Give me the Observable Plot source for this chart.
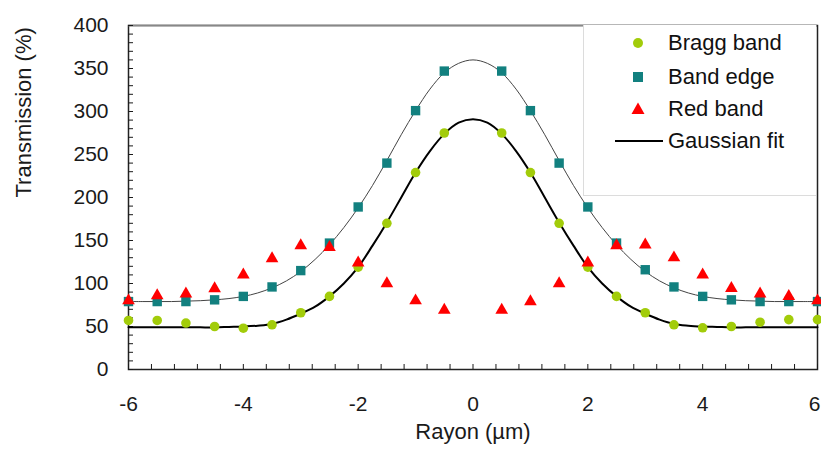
<!DOCTYPE html>
<html><head><meta charset="utf-8">
<script src="https://cdn.jsdelivr.net/npm/d3@7"></script>
<script src="https://cdn.jsdelivr.net/npm/@observablehq/plot@0.6"></script>
<style>
body{margin:0;background:#fff;font-family:"Liberation Sans",Arial,sans-serif;}
#wrap{position:relative;width:821px;height:450px;overflow:hidden;}
#legend{position:absolute;left:583px;top:25px;width:233px;height:171px;background:#fff;border-left:1px solid #dcdcdc;border-bottom:1px solid #dcdcdc;box-sizing:border-box;}
.row{position:absolute;left:0;height:30px;font-size:22px;color:#111;}
.row svg{position:absolute;left:0;top:0;}
.row span{position:absolute;left:84px;top:50%;transform:translateY(-50%);white-space:nowrap;line-height:1;}
</style></head>
<body><div id="wrap"></div>
<script>
// ---- data ----
const seriesNames = ["Bragg band", "Band edge", "Red band", "Gaussian fit"];
const seriesColors = ["#a2cc0a", "#12807f", "#ff0000", "#000000"];
const xLabel = "Rayon (µm)";
const yLabel = "Transmission (%)";
const xDomain = [-6, 6];
const yDomain = [0, 400];
const xTickLabels = [-6, -4, -2, 0, 2, 4];
const xLastTickLabel = [6];
const yTickLabels = [0, 50, 100, 150, 200, 250, 300, 350, 400];
const xMinorTicks = [-6,-5.6,-5.2,-4.8,-4.4,-4,-3.6,-3.2,-2.8,-2.4,-2,-1.6,-1.2,-0.8,-0.4,0,0.4,0.8,1.2,1.6,2,2.4,2.8,3.2,3.6,4,4.4,4.8,5.2,5.6,6];
const yMinorTicks = [0,10,20,30,40,50,60,70,80,90,100,110,120,130,140,150,160,170,180,190,200,210,220,230,240,250,260,270,280,290,300,310,320,330,340,350,360,370,380,390,400];

const pointX = [-6,-5.5,-5,-4.5,-4,-3.5,-3,-2.5,-2,-1.5,-1,-0.5,0.5,1,1.5,2,2.5,3,3.5,4,4.5,5,5.5,6];
const braggBand = [57,57,54,50,48,52,66,85,119,170,229,275,275,229,170,119,85,66,52,48.5,50,55,58,58];
const bandEdge  = [79,79,79,81,85,96,115,147,189,240,301,347,347,301,240,189,147,116,96,85,81,79,79,79];
const redBand   = [80,86,88,94,110,129,144,142,124,100,80,69,69,79,100,124,144,145,130,110,94.5,88,85,80];

const fitX = [-6,-5.75,-5.5,-5.25,-5,-4.75,-4.5,-4.25,-4,-3.75,-3.5,-3.25,-3,-2.75,-2.5,-2.25,-2,-1.75,-1.5,-1.25,-1,-0.75,-0.5,-0.25,0,0.25,0.5,0.75,1,1.25,1.5,1.75,2,2.25,2.5,2.75,3,3.25,3.5,3.75,4,4.25,4.5,4.75,5,5.25,5.5,5.75,6];
const braggFit = [49,49,49,49,49,49,49,49.5,50,51,53,58,65,73,85,100,119,144,171,200,229,254,274,287,291,287,274,254,229,200,171,144,119,100,85,73,65,58,53,51,50,49.5,49,49,49,49,49,49,49];
const edgeFit  = [79,79,79,79,79.5,80,81,82.5,85,89,95,103,114,128,145,165,188,214,243,273,301,326,345,356,360,356,345,326,301,273,243,214,188,165,145,128,114,103,95,89,85,82.5,81,80,79.5,79,79,79,79];

// ---- chart ----
const chart = Plot.plot({
  width: 821, height: 450,
  marginLeft: 128, marginRight: 4, marginTop: 25, marginBottom: 81,
  style: {fontFamily: "'Liberation Sans', Arial, sans-serif", fontSize: "21px", color: "#1a1a1a", background: "#fff", overflow: "visible"},
  x: {domain: xDomain},
  y: {domain: yDomain},
  marks: [
    Plot.frame({stroke: "#222", strokeWidth: 1.5}),
    Plot.ruleY([yDomain[1]], {stroke: "#888", strokeWidth: 1.5}),
    Plot.axisY({ticks: yMinorTicks, tickSize: -5, tickFormat: () => "", label: null, strokeWidth: 1}),
    Plot.axisY({ticks: yTickLabels, tickSize: 0, tickPadding: 20, tickFormat: d => String(d), label: null}),
    Plot.axisX({ticks: xMinorTicks, tickSize: -5, tickFormat: () => "", label: null, strokeWidth: 1}),
    Plot.axisX({ticks: xTickLabels, tickSize: 0, tickPadding: 27, tickFormat: d => String(d), label: null}),
    Plot.axisX({ticks: xLastTickLabel, tickSize: 0, tickPadding: 27, dx: -3, tickFormat: d => String(d), label: null}),
    Plot.text([yLabel], {frameAnchor: "left", rotate: -90, dx: -105, fontSize: 22, fill: "#1a1a1a"}),
    Plot.text([xLabel], {frameAnchor: "bottom", dy: 69, fontSize: 22, fill: "#1a1a1a"}),
    Plot.line(fitX, {x: fitX, y: edgeFit, curve: "catmull-rom", stroke: "#444", strokeWidth: 1}),
    Plot.line(fitX, {x: fitX, y: braggFit, curve: "catmull-rom", stroke: seriesColors[3], strokeWidth: 2}),
    Plot.dot(pointX, {x: pointX, y: braggBand, r: 4.8, fill: seriesColors[0], stroke: "none"}),
    Plot.dot(pointX, {x: pointX, y: bandEdge, symbol: "square", r: 5.3, fill: seriesColors[1], stroke: "none"}),
    Plot.dot(pointX, {x: pointX, y: redBand, symbol: "triangle", r: 4.7, fill: seriesColors[2], stroke: "none"})
  ]
});
const wrap = document.getElementById("wrap");
wrap.appendChild(chart);

// ---- legend ----
const legend = document.createElement("div");
legend.id = "legend";
const rowY = [18, 52, 84, 116];
const symbols = [
  `<circle cx="54" cy="15" r="5" fill="${seriesColors[0]}"/>`,
  `<rect x="49" y="10" width="10" height="10" fill="${seriesColors[1]}"/>`,
  `<path d="M54,8.5 L60.5,20 L47.5,20 Z" fill="${seriesColors[2]}"/>`,
  `<line x1="31" x2="79" y1="15" y2="15" stroke="${seriesColors[3]}" stroke-width="2"/>`
];
seriesNames.forEach((name, i) => {
  const row = document.createElement("div");
  row.className = "row";
  row.style.top = (rowY[i] - 15) + "px";
  row.style.width = "230px";
  row.innerHTML = `<svg width="84" height="30">${symbols[i]}</svg><span>${name}</span>`;
  legend.appendChild(row);
});
wrap.appendChild(legend);
</script>
</body></html>
